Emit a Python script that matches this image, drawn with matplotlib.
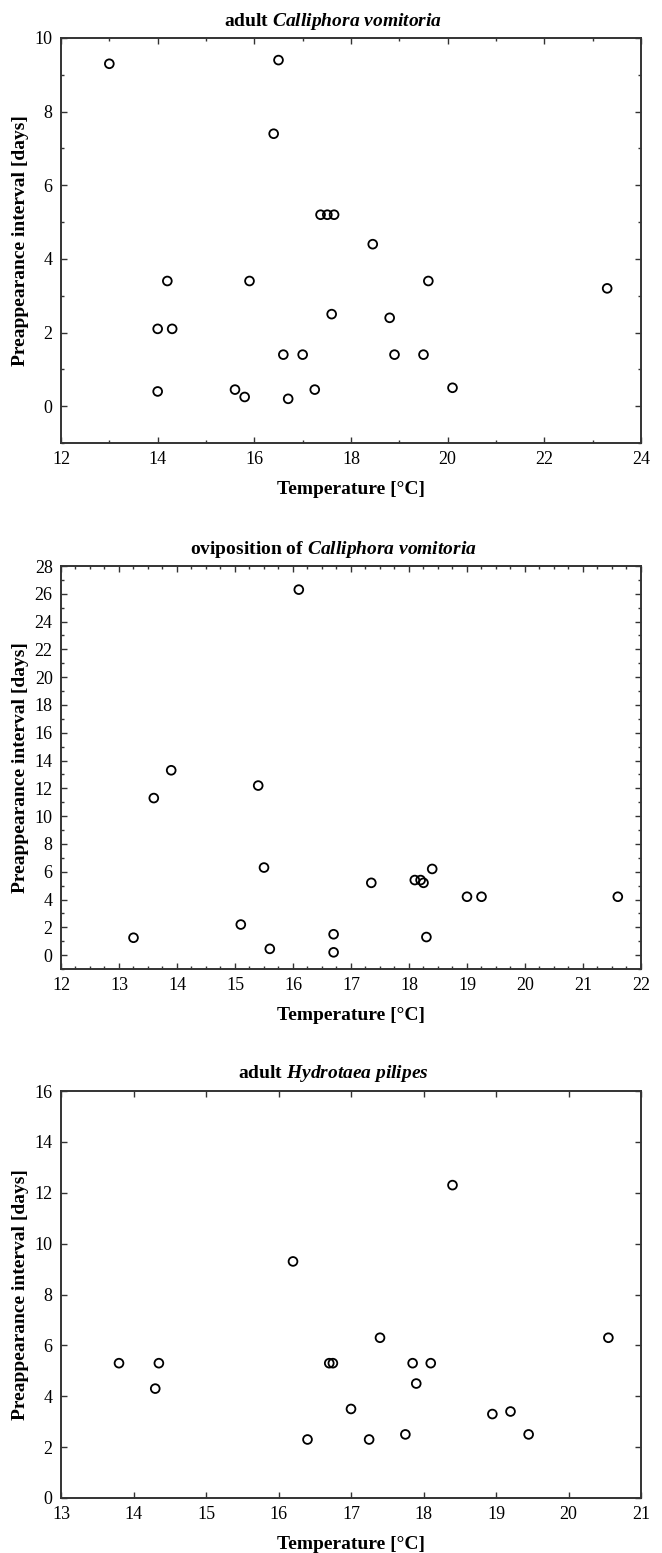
import numpy as np
import matplotlib
matplotlib.use("Agg")
import matplotlib.pyplot as plt
from matplotlib.ticker import MultipleLocator

plt.rcParams['font.family'] = ['Liberation Serif', 'DejaVu Serif']
plt.rcParams['mathtext.fontset'] = 'custom'
plt.rcParams['mathtext.rm'] = 'Liberation Serif'
plt.rcParams['mathtext.it'] = 'Liberation Serif:italic'
plt.rcParams['mathtext.bf'] = 'Liberation Serif:bold'
plt.rcParams['mathtext.bfit'] = 'Liberation Serif:italic:bold'

# adult Calliphora vomitoria
adult_cv_temp = [13.0, 16.5, 16.4, 17.37, 17.51, 17.65, 18.45, 14.2, 15.9, 19.6,
                 23.3, 17.6, 18.8, 14.0, 14.3, 16.6, 17.0, 18.9, 19.5, 20.1,
                 14.0, 15.6, 15.8, 16.7, 17.25]
adult_cv_days = [9.3, 9.4, 7.4, 5.2, 5.2, 5.2, 4.4, 3.4, 3.4, 3.4,
                 3.2, 2.5, 2.4, 2.1, 2.1, 1.4, 1.4, 1.4, 1.4, 0.5,
                 0.4, 0.45, 0.25, 0.2, 0.45]

# oviposition of Calliphora vomitoria
ovi_cv_temp = [16.1, 13.9, 13.6, 15.4, 15.5, 17.35, 18.1, 18.2, 18.25, 18.4,
               19.0, 19.25, 21.6, 15.1, 13.25, 16.7, 16.7, 18.3, 15.6]
ovi_cv_days = [26.3, 13.3, 11.3, 12.2, 6.3, 5.2, 5.4, 5.4, 5.2, 6.2,
               4.2, 4.2, 4.2, 2.2, 1.25, 1.5, 0.2, 1.3, 0.45]

# adult Hydrotaea pilipes
adult_hp_temp = [18.4, 16.2, 13.8, 14.35, 14.3, 16.4, 16.7, 16.75, 17.0, 17.25,
                 17.4, 17.75, 17.85, 17.9, 18.1, 18.95, 19.2, 19.45, 20.55]
adult_hp_days = [12.3, 9.3, 5.3, 5.3, 4.3, 2.3, 5.3, 5.3, 3.5, 2.3,
                 6.3, 2.5, 5.3, 4.5, 5.3, 3.3, 3.4, 2.5, 6.3]

panels = [
    dict(prefix="adult", species="Calliphora\\ vomitoria",
         x=adult_cv_temp, y=adult_cv_days,
         xlim=(12, 24), ylim=(-1, 10), xmaj=2, xmin=1, ymaj=2, ymin=1,
         rect=[61 / 662, 1 - 443 / 1553, 580 / 662, 405 / 1553]),
    dict(prefix="oviposition of", species="Calliphora\\ vomitoria",
         x=ovi_cv_temp, y=ovi_cv_days,
         xlim=(12, 22), ylim=(-1, 28), xmaj=1, xmin=0.25, ymaj=2, ymin=1,
         rect=[61 / 662, 1 - 969 / 1553, 580 / 662, 403 / 1553]),
    dict(prefix="adult", species="Hydrotaea\\ pilipes",
         x=adult_hp_temp, y=adult_hp_days,
         xlim=(13, 21), ylim=(0, 16), xmaj=1, xmin=None, ymaj=2, ymin=None,
         rect=[61 / 662, 1 - 1498 / 1553, 580 / 662, 407 / 1553]),
]

fig = plt.figure(figsize=(6.62, 15.53), dpi=100)

for p in panels:
    ax = fig.add_axes(p["rect"])
    ax.scatter(p["x"], p["y"], s=40, facecolors='none', edgecolors='black',
               linewidths=1.3, zorder=3, clip_on=False)
    ax.set_xlim(*p["xlim"])
    ax.set_ylim(*p["ylim"])
    ax.xaxis.set_major_locator(MultipleLocator(p["xmaj"]))
    ax.yaxis.set_major_locator(MultipleLocator(p["ymaj"]))
    if p["xmin"]:
        ax.xaxis.set_minor_locator(MultipleLocator(p["xmin"]))
    if p["ymin"]:
        ax.yaxis.set_minor_locator(MultipleLocator(p["ymin"]))
    ax.tick_params(which='both', direction='in', top=True, right=True,
                   color='#333333', labelsize=13, width=1.0)
    ax.tick_params(which='major', length=4, pad=6)
    ax.tick_params(which='minor', length=2.5)
    for s in ax.spines.values():
        s.set_color('#333333')
        s.set_linewidth(1.4)

    ax.set_xlabel("Temperature [°C]", fontsize=14, fontweight='bold', labelpad=9)
    ax.set_ylabel("Preappearance interval [days]", fontsize=14,
                  fontweight='bold', labelpad=4)
    # titles sit a little left of the axes centre in the original
    ax.set_title(p["prefix"] + r" $\mathbfit{" + p["species"] + "}$",
                 fontsize=14, fontweight='bold', pad=9, x=0.469)

fig.savefig("out.png", dpi=100)
